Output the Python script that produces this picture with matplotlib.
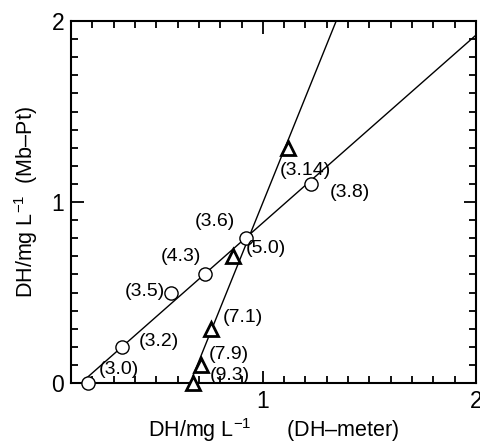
import numpy as np
import matplotlib.pyplot as plt

plt.rcParams['font.family'] = ['Liberation Sans', 'DejaVu Sans']
plt.rcParams['mathtext.fontset'] = 'custom'
plt.rcParams['mathtext.rm'] = 'Liberation Sans'

# DH-meter (x) vs Mb-Pt (y), circles and triangles
circ_x = [0.18, 0.34, 0.57, 0.73, 0.92, 1.225]
circ_y = [0.0, 0.2, 0.5, 0.6, 0.8, 1.1]
circ_lab = ['(3.0)', '(3.2)', '(3.5)', '(4.3)', '(3.6)', '(3.8)']

tri_x = [0.67, 0.71, 0.755, 0.86, 1.12]
tri_y = [0.0, 0.1, 0.3, 0.7, 1.3]
tri_lab = ['(9.3)', '(7.9)', '(7.1)', '(5.0)', '(3.14)']

# label offsets in pixels (dx, dy)
circ_off = [(31, 13), (37, 5), (-26, 1), (-24, 18), (-31, 17), (39, -9)]
tri_off = [(37, 7), (28, 10), (32, 11), (33, 8), (17, -23)]

fig = plt.figure(figsize=(4.81, 4.43), dpi=100)
ax = fig.add_axes([71/481, 60/443, 405/481, 362/443])

# fitted lines
for xs, ys in [(circ_x, circ_y), (tri_x, tri_y)]:
    k, b = np.polyfit(xs, ys, 1)
    lx = np.array([xs[0], 2.2])
    ax.plot(lx, k*lx + b, color='black', lw=1.0, zorder=1)

ax.plot(circ_x, circ_y, 'o', ms=9.5, mfc='white', mec='black', mew=1.0,
        ls='none', zorder=3, clip_on=False)
ax.plot(tri_x, tri_y, '^', ms=10, mfc='white', mec='black', mew=2.0,
        ls='none', zorder=3, clip_on=False)

for x, y, t, (dx, dy) in zip(circ_x, circ_y, circ_lab, circ_off):
    ax.annotate(t, (x, y), xytext=(dx, dy), textcoords='offset pixels',
                ha='center', va='center', fontsize=14, zorder=4)
for x, y, t, (dx, dy) in zip(tri_x, tri_y, tri_lab, tri_off):
    ax.annotate(t, (x, y), xytext=(dx, dy), textcoords='offset pixels',
                ha='center', va='center', fontsize=14, zorder=4)

ax.set_xlim(0.1, 2)
ax.set_ylim(0, 2)
ax.set_xticks([1, 2])
ax.set_yticks([0, 1, 2])
ax.set_xticks(np.arange(0.1, 2.0, 0.1), minor=True)
ax.set_yticks(np.arange(0.1, 2.0, 0.1), minor=True)
ax.tick_params(which='both', direction='in', top=True, right=True,
               width=1.3, labelsize=16.5)
ax.tick_params(which='major', length=9, pad=5)
ax.tick_params(which='minor', length=5)
for s in ax.spines.values():
    s.set_linewidth(1.5)

ax.set_xlabel('DH/mg L$^{-1}$      (DH–meter)', fontsize=15.5, va='baseline')
ax.xaxis.set_label_coords(0.5, (383 - 437) / 362)
ax.set_ylabel('DH/mg L$^{-1}$  (Mb–Pt)', fontsize=15.5, va='baseline')
ax.yaxis.set_label_coords((33 - 71) / 405, 0.5)

fig.savefig('out.png', dpi=100)
